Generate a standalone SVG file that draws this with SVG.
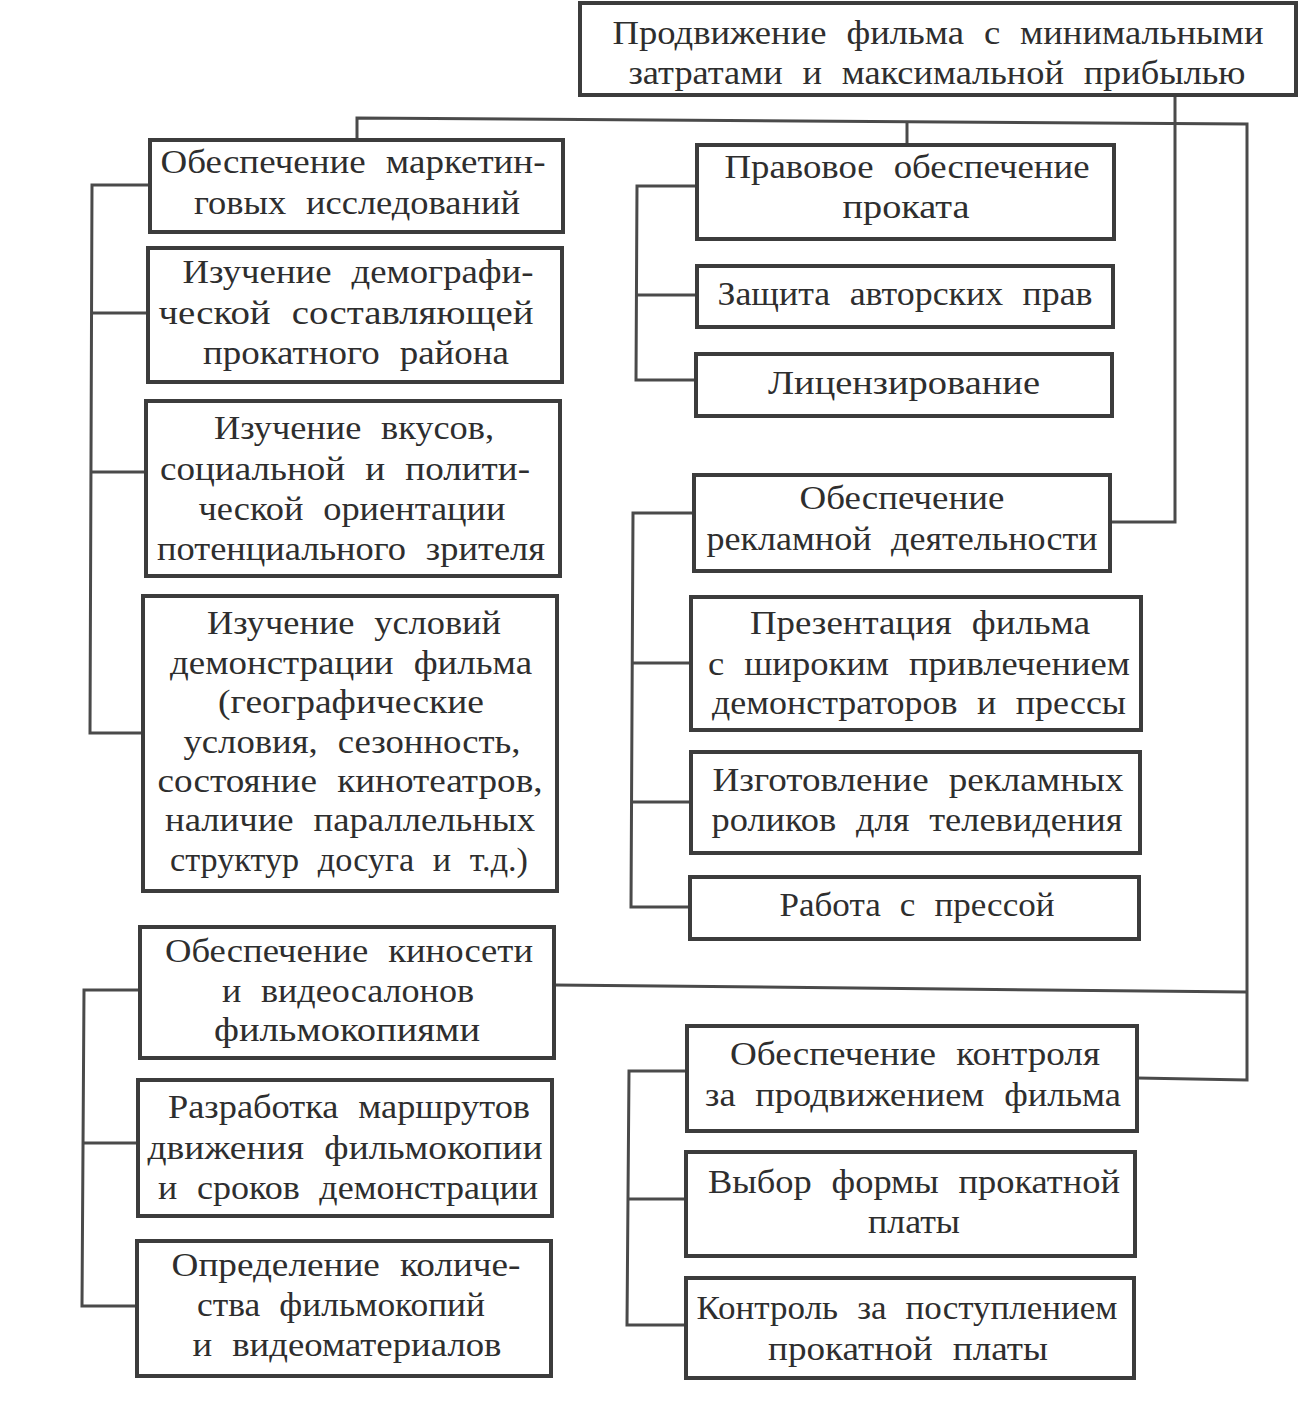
<svg xmlns="http://www.w3.org/2000/svg" width="1316" height="1405" viewBox="0 0 1316 1405">
<style>
.b{fill:#fff;stroke:#3c3c3c;stroke-width:4}
.c{fill:none;stroke:#4a4a4a;stroke-width:3}
text{font-family:"Liberation Serif","Times New Roman",serif;font-size:34px;word-spacing:10px;fill:#2e2e2e;text-anchor:middle}
</style>
<rect width="1316" height="1405" fill="#fff"/>
<g id="connectors">
<polyline class="c" points="357,140 357,118 1247,124 1247,1080 1137,1078"/>
<line class="c" x1="907" y1="121" x2="907" y2="145"/>
<polyline class="c" points="1175,95 1175,522 1110,522"/>
<line class="c" x1="554" y1="985" x2="1247" y2="992"/>
<polyline class="c" points="150,185 92,185 90,733 143,733"/>
<line class="c" x1="91" y1="313" x2="148" y2="313"/>
<line class="c" x1="91" y1="472" x2="146" y2="472"/>
<polyline class="c" points="697,186 637,186 636,380 696,380"/>
<line class="c" x1="637" y1="295" x2="697" y2="295"/>
<polyline class="c" points="694,513 633,513 631,907 690,907"/>
<line class="c" x1="632" y1="663" x2="691" y2="663"/>
<line class="c" x1="632" y1="802" x2="691" y2="802"/>
<polyline class="c" points="140,990 84,990 82,1306 137,1306"/>
<line class="c" x1="83" y1="1143" x2="138" y2="1143"/>
<polyline class="c" points="687,1071 629,1071 627,1325 686,1325"/>
<line class="c" x1="628" y1="1199" x2="686" y2="1199"/>
</g>
<g id="n0"><rect class="b" x="580" y="3" width="716" height="92"/>
<text x="938" y="44" textLength="651" lengthAdjust="spacingAndGlyphs">Продвижение фильма с минимальными</text>
<text x="937" y="84" textLength="617" lengthAdjust="spacingAndGlyphs">затратами и максимальной прибылью</text></g>
<g id="n1"><rect class="b" x="150" y="140" width="413" height="92"/>
<text x="353" y="173" textLength="385" lengthAdjust="spacingAndGlyphs">Обеспечение маркетин-</text>
<text x="357" y="214" textLength="326" lengthAdjust="spacingAndGlyphs">говых исследований</text></g>
<g id="n2"><rect class="b" x="148" y="248" width="414" height="134"/>
<text x="358" y="283" textLength="351" lengthAdjust="spacingAndGlyphs">Изучение демографи-</text>
<text x="346" y="324" textLength="375" lengthAdjust="spacingAndGlyphs">ческой составляющей</text>
<text x="356" y="364" textLength="306" lengthAdjust="spacingAndGlyphs">прокатного района</text></g>
<g id="n3"><rect class="b" x="146" y="401" width="414" height="175"/>
<text x="354" y="439" textLength="280" lengthAdjust="spacingAndGlyphs">Изучение вкусов,</text>
<text x="345" y="480" textLength="370" lengthAdjust="spacingAndGlyphs">социальной и полити-</text>
<text x="352" y="520" textLength="307" lengthAdjust="spacingAndGlyphs">ческой ориентации</text>
<text x="351" y="560" textLength="388" lengthAdjust="spacingAndGlyphs">потенциального зрителя</text></g>
<g id="n4"><rect class="b" x="143" y="596" width="414" height="295"/>
<text x="354" y="634" textLength="294" lengthAdjust="spacingAndGlyphs">Изучение условий</text>
<text x="351" y="674" textLength="362" lengthAdjust="spacingAndGlyphs">демонстрации фильма</text>
<text x="351" y="713" textLength="266" lengthAdjust="spacingAndGlyphs">(географические</text>
<text x="352" y="753" textLength="337" lengthAdjust="spacingAndGlyphs">условия, сезонность,</text>
<text x="350" y="792" textLength="385" lengthAdjust="spacingAndGlyphs">состояние кинотеатров,</text>
<text x="350" y="831" textLength="370" lengthAdjust="spacingAndGlyphs">наличие параллельных</text>
<text x="349" y="871" textLength="358" lengthAdjust="spacingAndGlyphs">структур досуга и т.д.)</text></g>
<g id="n5"><rect class="b" x="697" y="145" width="417" height="94"/>
<text x="907" y="178" textLength="365" lengthAdjust="spacingAndGlyphs">Правовое обеспечение</text>
<text x="906" y="218" textLength="127" lengthAdjust="spacingAndGlyphs">проката</text></g>
<g id="n6"><rect class="b" x="697" y="266" width="416" height="61"/>
<text x="905" y="305" textLength="375" lengthAdjust="spacingAndGlyphs">Защита авторских прав</text></g>
<g id="n7"><rect class="b" x="696" y="354" width="416" height="62"/>
<text x="904" y="394" textLength="272" lengthAdjust="spacingAndGlyphs">Лицензирование</text></g>
<g id="n8"><rect class="b" x="694" y="475" width="416" height="96"/>
<text x="902" y="509" textLength="205" lengthAdjust="spacingAndGlyphs">Обеспечение</text>
<text x="902" y="550" textLength="391" lengthAdjust="spacingAndGlyphs">рекламной деятельности</text></g>
<g id="n9"><rect class="b" x="691" y="597" width="450" height="133"/>
<text x="920" y="634" textLength="340" lengthAdjust="spacingAndGlyphs">Презентация фильма</text>
<text x="919" y="675" textLength="422" lengthAdjust="spacingAndGlyphs">с широким привлечением</text>
<text x="919" y="714" textLength="414" lengthAdjust="spacingAndGlyphs">демонстраторов и прессы</text></g>
<g id="n10"><rect class="b" x="691" y="752" width="449" height="101"/>
<text x="918" y="791" textLength="411" lengthAdjust="spacingAndGlyphs">Изготовление рекламных</text>
<text x="917" y="831" textLength="411" lengthAdjust="spacingAndGlyphs">роликов для телевидения</text></g>
<g id="n11"><rect class="b" x="690" y="877" width="449" height="62"/>
<text x="917" y="916" textLength="275" lengthAdjust="spacingAndGlyphs">Работа с прессой</text></g>
<g id="n12"><rect class="b" x="140" y="927" width="414" height="131"/>
<text x="349" y="962" textLength="368" lengthAdjust="spacingAndGlyphs">Обеспечение киносети</text>
<text x="348" y="1002" textLength="252" lengthAdjust="spacingAndGlyphs">и видеосалонов</text>
<text x="347" y="1041" textLength="266" lengthAdjust="spacingAndGlyphs">фильмокопиями</text></g>
<g id="n13"><rect class="b" x="138" y="1080" width="414" height="136"/>
<text x="349" y="1118" textLength="362" lengthAdjust="spacingAndGlyphs">Разработка маршрутов</text>
<text x="345" y="1159" textLength="395" lengthAdjust="spacingAndGlyphs">движения фильмокопии</text>
<text x="348" y="1199" textLength="380" lengthAdjust="spacingAndGlyphs">и сроков демонстрации</text></g>
<g id="n14"><rect class="b" x="137" y="1241" width="414" height="135"/>
<text x="346" y="1276" textLength="349" lengthAdjust="spacingAndGlyphs">Определение количе-</text>
<text x="341" y="1316" textLength="288" lengthAdjust="spacingAndGlyphs">ства фильмокопий</text>
<text x="347" y="1356" textLength="309" lengthAdjust="spacingAndGlyphs">и видеоматериалов</text></g>
<g id="n15"><rect class="b" x="687" y="1026" width="450" height="105"/>
<text x="915" y="1065" textLength="370" lengthAdjust="spacingAndGlyphs">Обеспечение контроля</text>
<text x="913" y="1106" textLength="416" lengthAdjust="spacingAndGlyphs">за продвижением фильма</text></g>
<g id="n16"><rect class="b" x="686" y="1152" width="449" height="104"/>
<text x="914" y="1193" textLength="412" lengthAdjust="spacingAndGlyphs">Выбор формы прокатной</text>
<text x="914" y="1233" textLength="92" lengthAdjust="spacingAndGlyphs">платы</text></g>
<g id="n17"><rect class="b" x="686" y="1278" width="448" height="100"/>
<text x="907" y="1319" textLength="421" lengthAdjust="spacingAndGlyphs">Контроль за поступлением</text>
<text x="908" y="1360" textLength="280" lengthAdjust="spacingAndGlyphs">прокатной платы</text></g>
</svg>
